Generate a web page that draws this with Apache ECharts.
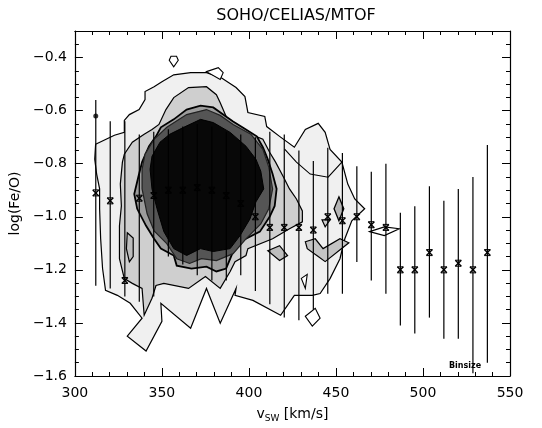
<!DOCTYPE html>
<html><head><meta charset="utf-8">
<script src="https://cdn.jsdelivr.net/npm/echarts@6/dist/echarts.min.js"></script>
<style>html,body{margin:0;padding:0;background:#fff}#c{width:542px;height:428px}</style>
</head><body><div id="c"></div>
<script>
// Axis ranges / ticks
const xRange = [300, 550];
const yRange = [-1.6, -0.3];
const xTickStep = 50;
const yTickStep = 0.2;

// Binned means with error bars
const binV = [312,320.3,328.7,337,345.3,353.7,362,370.3,378.7,387,395.3,403.7,412,420.3,428.7,437,445.3,453.7,462,470.3,478.7,487,495.3,503.7,512,520.3,528.7,537];
const binMid = [-0.91,-0.94,-1.24,-0.93,-0.92,-0.90,-0.90,-0.89,-0.90,-0.92,-0.95,-1.00,-1.04,-1.04,-1.04,-1.05,-1.00,-1.015,-1.00,-1.03,-1.04,-1.20,-1.20,-1.135,-1.20,-1.175,-1.20,-1.135];
const binHigh = [-0.56,-0.64,-0.64,-0.69,-0.68,-0.67,-0.66,-0.65,-0.66,-0.68,-0.69,-0.70,-0.68,-0.69,-0.75,-0.79,-0.74,-0.76,-0.81,-0.83,-0.80,-0.985,-0.96,-0.885,-0.94,-0.895,-0.85,-0.73];
const binLow = [-1.26,-1.27,-1.30,-1.32,-1.30,-1.15,-1.18,-1.22,-1.24,-1.24,-1.22,-1.28,-1.33,-1.38,-1.39,-1.35,-1.29,-1.29,-1.17,-1.24,-1.29,-1.41,-1.44,-1.38,-1.46,-1.46,-1.59,-1.55];
const extraDot = [[312, -0.62]];

// Density contours (v_sw, log Fe/O)
const contour1 = [[311.9,-0.727],[322.7,-0.693],[328.4,-0.682],[328.4,-0.637],[331.3,-0.615],[336.9,-0.596],[340.3,-0.558],[340.3,-0.528],[345.5,-0.510],[350.0,-0.491],[356.8,-0.465],[366.5,-0.457],[375.6,-0.457],[384.1,-0.476],[392.6,-0.513],[397.7,-0.547],[399.4,-0.607],[409.1,-0.622],[410.2,-0.660],[417.6,-0.697],[426.1,-0.738],[432.4,-0.671],[439.8,-0.648],[443.8,-0.682],[446.6,-0.746],[453.4,-0.794],[456.8,-0.877],[460.8,-0.933],[466.5,-0.970],[459.1,-1.015],[455.1,-1.083],[452.3,-1.158],[446.6,-1.233],[440.9,-1.289],[436.4,-1.296],[426.1,-1.296],[418.2,-1.371],[402.3,-1.315],[392.0,-1.296],[392.6,-1.270],[383.5,-1.401],[375.6,-1.270],[366.5,-1.420],[349.4,-1.326],[350.0,-1.394],[340.9,-1.506],[330.1,-1.450],[338.6,-1.382],[331.8,-1.326],[324.4,-1.296],[317.6,-1.277],[315.9,-1.195],[314.8,-1.083],[314.2,-0.970],[314.2,-0.895],[312.5,-0.839],[311.4,-0.783]];
const contour2 = [[352.3,-0.596],[356.8,-0.551],[365.3,-0.513],[375.6,-0.510],[381.3,-0.540],[383.5,-0.570],[386.9,-0.622],[389.8,-0.660],[398.3,-0.682],[408.0,-0.708],[411.9,-0.757],[415.3,-0.794],[419.9,-0.851],[423.3,-0.895],[427.3,-0.933],[430.7,-0.978],[430.7,-1.019],[423.3,-1.045],[413.6,-1.083],[399.4,-1.120],[398.3,-1.146],[392.0,-1.169],[389.2,-1.206],[383.5,-1.270],[375.0,-1.225],[365.3,-1.270],[351.1,-1.251],[346.6,-1.259],[344.3,-1.307],[339.8,-1.371],[338.6,-1.270],[333.0,-1.251],[328.4,-1.233],[325.6,-1.158],[325.6,-1.034],[326.7,-0.959],[326.1,-0.877],[327.3,-0.794],[328.4,-0.764],[333.0,-0.719],[339.8,-0.689],[344.3,-0.671],[348.3,-0.652]];
const contour3 = [[346.6,-0.697],[349.4,-0.663],[356.8,-0.633],[364.2,-0.596],[372.2,-0.581],[379.5,-0.588],[385.2,-0.615],[390.9,-0.641],[398.3,-0.671],[404.5,-0.697],[408.0,-0.738],[410.8,-0.783],[413.6,-0.839],[415.9,-0.895],[414.8,-0.959],[411.9,-1.000],[406.3,-1.056],[394.9,-1.094],[390.9,-1.131],[386.9,-1.195],[381.3,-1.206],[375.6,-1.188],[367.0,-1.195],[358.5,-1.184],[356.8,-1.146],[349.4,-1.120],[345.5,-1.083],[340.9,-1.034],[335.8,-0.970],[334.1,-0.914],[336.4,-0.851],[338.6,-0.794],[342.6,-0.734]];
const contour4 = [[340.3,-0.764],[345.5,-0.708],[352.8,-0.663],[364.2,-0.615],[375.6,-0.596],[383.5,-0.618],[390.9,-0.652],[401.1,-0.689],[408.0,-0.746],[411.4,-0.813],[413.6,-0.895],[411.4,-0.970],[406.8,-1.027],[398.3,-1.083],[390.9,-1.139],[381.3,-1.165],[372.7,-1.158],[365.9,-1.176],[358.5,-1.158],[352.8,-1.101],[345.5,-1.053],[341.5,-0.989],[338.6,-0.895],[338.6,-0.821]];
const contour5 = [[344.3,-0.772],[348.9,-0.719],[354.5,-0.689],[362.5,-0.663],[372.2,-0.633],[379.5,-0.645],[389.2,-0.682],[398.3,-0.734],[404.0,-0.783],[406.8,-0.828],[408.5,-0.895],[404.0,-0.944],[400.6,-1.008],[394.9,-1.071],[389.2,-1.120],[379.5,-1.131],[372.2,-1.120],[364.2,-1.146],[356.8,-1.120],[351.1,-1.056],[347.2,-0.970],[344.3,-0.895],[343.2,-0.821]];
// small isolated contour islands
const islandTop = [[356.8,-0.435],[354.2,-0.41],[355.2,-0.395],[358.4,-0.395],[359.4,-0.41]];
const islandTopRight = [[375.6,-0.453],[382.4,-0.438],[385.2,-0.457],[383.5,-0.483]];
const islandDiamond = [[451.7,-0.925],[454.5,-0.970],[451.7,-1.015],[448.9,-0.970]];
const islandTri = [[442.0,-1.012],[446.6,-1.012],[443.8,-1.038]];
const islandRight = [[469.3,-1.056],[477.8,-1.038],[486.4,-1.045],[477.8,-1.071]];
const islandV = [[432.4,-1.094],[438.1,-1.083],[442.6,-1.120],[452.3,-1.083],[457.4,-1.098],[443.8,-1.169],[439.8,-1.150],[433.5,-1.120]];
const islandMid = [[410.8,-1.128],[417.6,-1.109],[422.2,-1.146],[417.6,-1.165]];
const islandLow = [[432.4,-1.375],[438.1,-1.345],[440.9,-1.382],[436.4,-1.412]];
const islandLowTri = [[430.1,-1.232],[433.5,-1.217],[432.4,-1.27]];
const islandLeft = [[330.1,-1.06],[333.5,-1.08],[333.5,-1.15],[331.3,-1.17],[329.6,-1.12]];
const lobeLine = [[420.5,-0.745],[427.3,-0.794],[435.2,-0.839],[445.5,-0.851],[453.4,-0.794]];

const chart = echarts.init(document.getElementById('c'), null, {renderer: 'canvas'});

function poly(points, fill, stroke, lw, closed) {
  return {
    type: 'custom', coordinateSystem: 'cartesian2d', xAxisIndex: 0, yAxisIndex: 0,
    silent: true, clip: true, animation: false,
    data: [[points[0][0], points[0][1]]], encode: {x: 0, y: 1},
    renderItem: (params, api) => ({
      type: closed === false ? 'polyline' : 'polygon',
      shape: {points: points.map(p => api.coord(p))},
      style: {fill: closed === false ? 'none' : fill, stroke: stroke, lineWidth: lw}
    })
  };
}

const fmt = v => v.toFixed(1).replace('-', '\u2212');
const axisCommon = {
  type: 'value',
  axisLine: {show: true, onZero: false, lineStyle: {color: '#000', width: 1.2}},
  axisTick: {show: true, inside: true, length: 8, lineStyle: {color: '#000', width: 1}},
  minorTick: {show: true, length: 4, lineStyle: {color: '#000', width: 1}},
  splitLine: {show: false}
};

const errData = binV.map((v, i) => [v, binMid[i], binLow[i], binHigh[i]]);

chart.setOption({
  animation: false,
  backgroundColor: '#fff',
  title: {
    text: 'SOHO/CELIAS/MTOF', left: 291, top: 3, textAlign: 'center',
    textStyle: {fontFamily: 'DejaVu Sans', fontSize: 16, fontWeight: 'normal', color: '#000'}
  },
  grid: {left: 72, right: 32, top: 31, bottom: 50, containLabel: false},
  xAxis: [
    Object.assign({}, axisCommon, {
      min: xRange[0], max: xRange[1], interval: xTickStep, position: 'bottom',
      minorTick: Object.assign({}, axisCommon.minorTick, {splitNumber: 5}),
      axisLabel: {color: '#000', fontFamily: 'DejaVu Sans', fontSize: 14, margin: 10},
      name: '{a|v}{b|SW}{a| [km/s]}', nameLocation: 'middle', nameGap: 30,
      nameTextStyle: {rich: {
        a: {fontFamily: 'DejaVu Sans', fontSize: 14, color: '#000'},
        b: {fontFamily: 'DejaVu Sans', fontSize: 9, color: '#000', padding: [8, 0, 0, 0]}
      }}
    }),
    Object.assign({}, axisCommon, {
      min: xRange[0], max: xRange[1], interval: xTickStep, position: 'top',
      minorTick: Object.assign({}, axisCommon.minorTick, {splitNumber: 5}),
      axisLabel: {show: false}
    })
  ],
  yAxis: [
    Object.assign({}, axisCommon, {
      min: yRange[0], max: yRange[1], interval: yTickStep, position: 'left',
      minorTick: Object.assign({}, axisCommon.minorTick, {splitNumber: 4}),
      axisLabel: {color: '#000', fontFamily: 'DejaVu Sans', fontSize: 14, margin: 8, formatter: fmt, showMaxLabel: false},
      name: 'log(Fe/O)', nameLocation: 'middle', nameGap: 48, nameRotate: 90,
      nameTextStyle: {fontFamily: 'DejaVu Sans', fontSize: 14, color: '#000'}
    }),
    Object.assign({}, axisCommon, {
      min: yRange[0], max: yRange[1], interval: yTickStep, position: 'right',
      minorTick: Object.assign({}, axisCommon.minorTick, {splitNumber: 4}),
      axisLabel: {show: false}
    })
  ],
  graphic: [{
    type: 'text', left: 449, top: 362,
    style: {text: 'Binsize', fontFamily: 'DejaVu Sans', fontSize: 8, fontWeight: 'bold', fill: '#000'}
  }],
  series: [
    poly(contour1, '#f0f0f0', '#000', 1.2),
    poly(contour2, '#cfcfcf', '#000', 1.2),
    poly(contour3, '#9c9c9c', '#000', 1.8),
    poly(contour4, '#555555', '#222', 1.2),
    poly(contour5, '#080808', '#000', 1),
    poly(islandTop, '#ffffff', '#000', 1.1),
    poly(islandTopRight, '#ffffff', '#000', 1.1),
    poly(islandDiamond, '#b5b5b5', '#000', 1.3),
    poly(islandTri, '#cfcfcf', '#000', 1.2),
    poly(islandRight, '#ffffff', '#000', 1.1),
    poly(islandV, '#c4c4c4', '#000', 1.2),
    poly(islandMid, '#bdbdbd', '#000', 1.2),
    poly(islandLow, '#ffffff', '#000', 1.1),
    poly(islandLowTri, '#ffffff', '#000', 1.1),
    poly(islandLeft, '#bdbdbd', '#000', 1.2),
    poly(lobeLine, 'none', '#000', 1.1, false),
    {
      type: 'custom', coordinateSystem: 'cartesian2d', xAxisIndex: 0, yAxisIndex: 0,
      silent: true, clip: true, animation: false,
      data: errData, encode: {x: 0, y: 1},
      renderItem: (params, api) => {
        const x = api.value(0), m = api.value(1), lo = api.value(2), hi = api.value(3);
        const pLo = api.coord([x, lo]), pHi = api.coord([x, hi]), pM = api.coord([x, m]);
        const s = 3;
        const st = {stroke: '#000', lineWidth: 1.2};
        return {type: 'group', children: [
          {type: 'line', shape: {x1: pLo[0], y1: pLo[1], x2: pHi[0], y2: pHi[1]}, style: st},
          {type: 'line', shape: {x1: pM[0] - s, y1: pM[1] - s, x2: pM[0] + s, y2: pM[1] + s}, style: {stroke: '#000', lineWidth: 1.4}},
          {type: 'line', shape: {x1: pM[0] - s, y1: pM[1] + s, x2: pM[0] + s, y2: pM[1] - s}, style: {stroke: '#000', lineWidth: 1.4}},
          {type: 'line', shape: {x1: pM[0] - s, y1: pM[1] - s, x2: pM[0] + s, y2: pM[1] - s}, style: {stroke: '#000', lineWidth: 1}},
          {type: 'line', shape: {x1: pM[0] - s, y1: pM[1] + s, x2: pM[0] + s, y2: pM[1] + s}, style: {stroke: '#000', lineWidth: 1}}
        ]};
      }
    },
    {
      type: 'scatter', xAxisIndex: 0, yAxisIndex: 0, data: extraDot,
      symbol: 'circle', symbolSize: 5, itemStyle: {color: '#000'}, silent: true
    }
  ]
});
</script>
</body></html>
